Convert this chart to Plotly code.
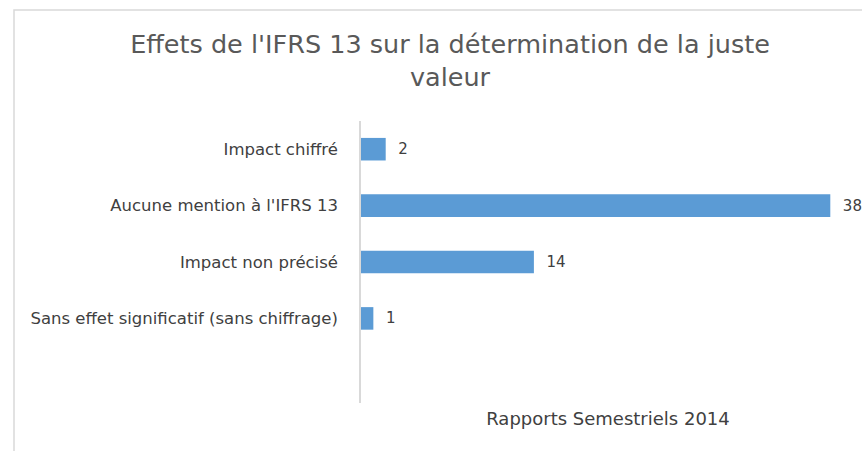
import plotly.graph_objects as go

categories = ["Impact chiffré", "Aucune mention à l'IFRS 13", "Impact non précisé",
              "Sans effet significatif (sans chiffrage)"]
values = [2, 38, 14, 1]
title_text = "Effets de l'IFRS 13 sur la détermination de la juste<br>valeur"
axis_title = "Rapports Semestriels 2014"

W, H = 862, 451
L, R, T, B = 361, 855, 121, 403
FONT = "DejaVu Sans"

fig = go.Figure(go.Bar(
    y=categories, x=values, orientation="h",
    marker=dict(color="#5B9BD5", line=dict(width=0)),
    text=["  " + str(v) for v in values], textposition="outside",
    textfont=dict(family=FONT, size=15, color="#404040"),
    cliponaxis=False,
))

px_w = R - L
px_h = B - T
fig.add_shape(type="rect", xref="paper", yref="paper",
              x0=(14 - L) / px_w, x1=(900 - L) / px_w,
              y0=(B - 470) / px_h, y1=(B - 10) / px_h,
              line=dict(color="#D9D9D9", width=1.5), fillcolor="rgba(0,0,0,0)", layer="below")

fig.update_layout(
    width=W, height=H,
    margin=dict(l=L, r=W - R, t=T, b=H - B, pad=0),
    paper_bgcolor="white", plot_bgcolor="white",
    showlegend=False,
    bargap=0.6,
    title=dict(text=title_text, x=450 / W, xanchor="center", y=1 - 53 / H, yanchor="top",
               font=dict(family=FONT, size=25.5, color="#595959")),
    xaxis=dict(range=[0, 40], showgrid=False, zeroline=False, showticklabels=False,
               showline=False, ticks="",
               title=dict(text=axis_title, standoff=9,
                          font=dict(family=FONT, size=18, color="#404040"))),
    yaxis=dict(type="category", categoryorder="array", categoryarray=categories,
               range=[4.5, -0.5], showgrid=False, zeroline=False,
               showline=True, linecolor="#D9D9D9", linewidth=1.5, ticks="",
               ticklabelstandoff=18,
               tickfont=dict(family=FONT, size=16.5, color="#404040")),
)

fig.write_html("out.html", config={"displayModeBar": False},
               post_script="document.body.style.margin='0';")
